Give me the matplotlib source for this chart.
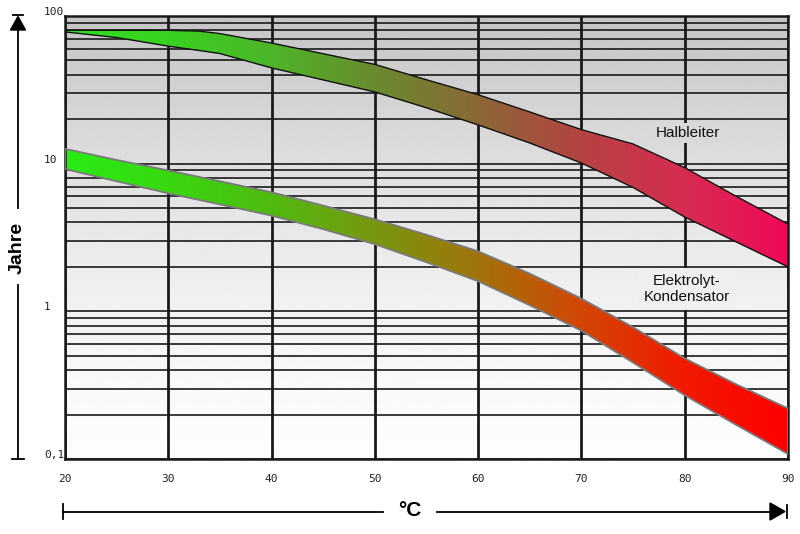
import numpy as np
import matplotlib
matplotlib.use("Agg")
from matplotlib import pyplot as plt
from matplotlib import transforms
from matplotlib.colors import LinearSegmentedColormap
from matplotlib.ticker import LogLocator, NullFormatter
from matplotlib.patches import Polygon
from matplotlib.lines import Line2D

# --- data ----------------------------------------------------------------
# Halbleiter (semiconductor) lifetime band, upper and lower edge, in years
hl_temp = [20, 25, 30, 33, 35, 40, 45, 50, 55, 60, 65, 70, 75, 80, 85, 90]
hl_top = [80, 80, 80, 79, 76, 65.6, 55.5, 47, 37, 29.3, 22.4, 17, 13.6, 9.4, 6.0, 3.9]
hl_bot = [78, 71.5, 62.5, 58.4, 55.7, 44.5, 36.9, 30.6, 23.9, 18.3, 13.8, 10.1, 6.9, 4.35, 2.95, 2.0]

# Elektrolyt-Kondensator lifetime band
ek_temp = [20, 25, 30, 35, 40, 45, 50, 55, 60, 65, 70, 75, 80, 85, 90]
ek_top = [12.6, 10.6, 9.0, 7.6, 6.4, 5.2, 4.2, 3.3, 2.55, 1.8, 1.22, 0.78, 0.48, 0.32, 0.22]
ek_bot = [9.2, 7.6, 6.3, 5.3, 4.45, 3.6, 2.85, 2.15, 1.6, 1.1, 0.74, 0.45, 0.27, 0.17, 0.108]

x_ticks = [20, 30, 40, 50, 60, 70, 80, 90]
y_ticks = [0.1, 1, 10, 100]
y_ticklabels = ["0,1", "1", "10", "100"]

# colour stops along the temperature axis (green -> red)
hl_stops = ["#30e020", "#38d020", "#4cb428", "#6a8a2e", "#8a6836", "#b44242", "#d62c50", "#f00858"]
ek_stops = ["#28eb14", "#37d70f", "#50b90f", "#78960f", "#a0730a", "#d24605", "#f01900", "#ff0000"]

# ==========================================================================
fig = plt.figure(figsize=(8, 5.34), dpi=100)
ax = fig.add_axes([65 / 800, 1 - 459 / 534, 723 / 800, 443 / 534])
ax.set_yscale("log")


def bg_grey(frac_from_top):
    # grey background fading to white towards the bottom
    return 0.99 - 0.22 * (1 - frac_from_top) ** 1.5


bg = bg_grey(np.linspace(0, 1, 256))
ax.imshow(bg[:, None], cmap="gray", vmin=0, vmax=1, extent=(0, 1, 0, 1),
          transform=ax.transAxes, aspect="auto", zorder=0, interpolation="bilinear")


def gradient_band(temp, lo, hi, stops, edge, lw):
    cmap = LinearSegmentedColormap.from_list("band", stops)
    poly = ax.fill_between(temp, lo, hi, facecolor="none", edgecolor=edge,
                           linewidth=lw, zorder=3)
    xs = np.linspace(temp[0], temp[-1], 400)
    ys = np.array([0.05, 200])
    cs = ((xs[:-1] + xs[1:]) / 2)[None, :]
    mesh = ax.pcolormesh(xs, ys, cs, cmap=cmap, vmin=temp[0], vmax=temp[-1],
                         shading="flat", zorder=2)
    mesh.set_clip_path(poly.get_paths()[0], ax.transData)


gradient_band(hl_temp, hl_bot, hl_top, hl_stops, "#111111", 1.0)
gradient_band(ek_temp, ek_bot, ek_top, ek_stops, "#7a7a7a", 1.3)

ax.set_xlim(20, 90)
ax.set_ylim(0.1, 100)

# grid
ax.set_axisbelow(True)
ax.yaxis.set_minor_locator(LogLocator(base=10, subs=np.arange(2, 10)))
ax.yaxis.set_minor_formatter(NullFormatter())
ax.grid(True, which="both", axis="y", color="#1a1a1a", linewidth=1.2)
ax.grid(True, which="major", axis="x", color="#1a1a1a", linewidth=2.0)
for s in ax.spines.values():
    s.set_linewidth(1.8)
    s.set_color("#1a1a1a")

ax.set_xticks(x_ticks)
ax.set_xticklabels([str(v) for v in x_ticks], fontfamily="DejaVu Sans Mono",
                   fontsize=8, color="#222222")
ax.tick_params(axis="x", length=0, pad=11)
ax.set_yticks(y_ticks)
ax.set_yticklabels([])
ax.tick_params(axis="y", which="both", length=0)

off = transforms.ScaledTranslation(0, 4 / 100, fig.dpi_scale_trans)
ytrans = transforms.blended_transform_factory(ax.transAxes, ax.transData) + off
for v, lab in zip(y_ticks, y_ticklabels):
    ax.text(-21 / 723, v, lab, transform=ytrans, ha="left", va="center",
            fontfamily="DejaVu Sans Mono", fontsize=8, color="#222222")

g1 = bg_grey((134 - 16) / 443)
ax.text(80.3, 10 ** (2 - (133 - 16) / 147.7), "Halbleiter", ha="center", va="center",
        fontfamily="Liberation Sans", fontsize=11, color="#111111", zorder=5,
        bbox=dict(boxstyle="square,pad=0.2", fc=(g1, g1, g1), ec="none"))
g2 = bg_grey((288 - 16) / 443)
ax.text(80.2, 10 ** (2 - (289 - 16) / 147.7), "Elektrolyt-\nKondensator", ha="center",
        va="center", fontfamily="Liberation Sans", fontsize=11, color="#111111",
        linespacing=1.15, zorder=5,
        bbox=dict(boxstyle="square,pad=0.4", fc=(g2, g2, g2), ec="none"))

# axis arrows drawn in pixel space
ov = fig.add_axes([0, 0, 1, 1], facecolor="none")
ov.set_xlim(0, 800)
ov.set_ylim(534, 0)
ov.axis("off")
k = dict(color="black", linewidth=1.3)
ov.add_line(Line2D([18, 18], [24, 208], **k))
ov.add_line(Line2D([18, 18], [285, 459], **k))
ov.add_line(Line2D([12, 24], [459, 459], **k))
ov.add_line(Line2D([13, 23], [15, 15], **k))
ov.add_patch(Polygon([[18, 16.5], [10.5, 30], [25.5, 30]], closed=True, color="black"))
ov.text(17, 248, "Jahre", rotation=90, ha="center", va="center",
        fontfamily="Liberation Sans", fontweight="bold", fontsize=14)

ov.add_line(Line2D([63, 383], [511.5, 511.5], **k))
ov.add_line(Line2D([437, 772], [511.5, 511.5], **k))
ov.add_line(Line2D([63, 63], [504, 519], **k))
ov.add_line(Line2D([787, 787], [505, 518], **k))
ov.add_patch(Polygon([[770, 503], [770, 520], [785, 511.5]], closed=True, color="black"))
ov.text(410, 511, "°C", ha="center", va="center",
        fontfamily="Liberation Sans", fontweight="bold", fontsize=15)

fig.savefig("out.png", dpi=100)
